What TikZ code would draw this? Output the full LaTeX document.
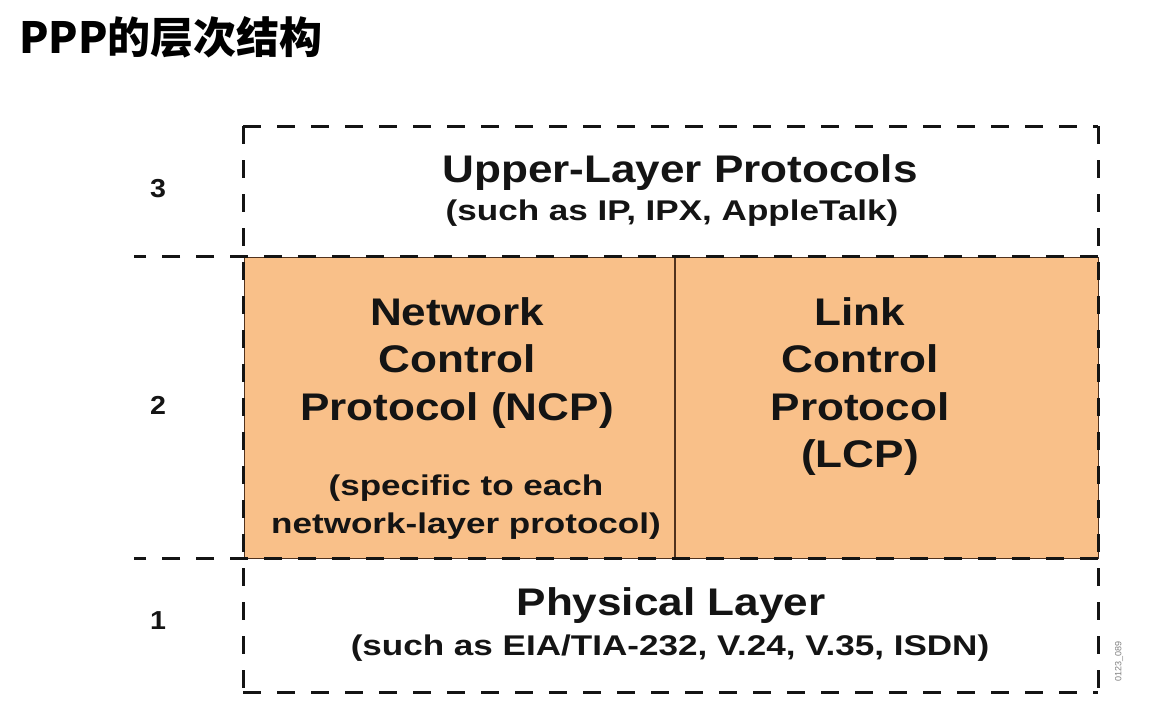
\documentclass[tikz,border=0pt]{standalone}
\usepackage{fontspec}
\setmainfont{Liberation Sans}
\newfontfamily\cjk{Noto Sans CJK SC}
\definecolor{layerfill}{RGB}{249,192,137}
\definecolor{layeredge}{RGB}{80,50,30}
\definecolor{ink}{RGB}{20,20,20}
\begin{document}
\begin{tikzpicture}[x=1pt,y=-1pt,
  dashline/.style={draw=ink,line width=3pt,dash pattern=on 18pt off 16pt},
  big/.style={font=\fontsize{38.5}{44}\selectfont\bfseries,text=ink,anchor=base,inner sep=0pt,xscale=1.145},
  small/.style={font=\fontsize{28.5}{32}\selectfont\bfseries,text=ink,anchor=base,inner sep=0pt,xscale=1.23},
  num/.style={font=\fontsize{26}{30}\selectfont\bfseries,text=ink,anchor=base,inner sep=0pt,xscale=1.1}]
\useasboundingbox (0,0) rectangle (1168,705);
\fill[white] (0,0) rectangle (1168,705);

% title
\node[anchor=base west,inner sep=0pt,font=\cjk\bfseries\fontsize{43}{48}\selectfont] (title) at (19,53) {PPP的层次结构};

% data link layer block
\filldraw[fill=layerfill,draw=layeredge,line width=0.9pt] (244,257) rectangle (1098,558);
\draw[layeredge,line width=1.6pt] (675,257) -- (675,558);

% layer boundaries
\coordinate (tl) at (243,126);
\coordinate (tr) at (1098,126);
\coordinate (bl) at (243,692);
\coordinate (br) at (1098,692);
\draw[dashline] (tl) -- (tr);
\draw[dashline] (bl) -- (br);
\draw[dashline] (243,126) -- (243,692);
\draw[dashline] (1098,126) -- (1098,692);
\draw[dashline] (1098,256) -- (134,256);
\draw[dashline] (1098,558) -- (134,558);

% layer numbers
\node[num] (n3) at (158,197) {3};
\node[num] (n2) at (158,414) {2};
\node[num] (n1) at (158,629) {1};

% layer 3
\node[big] (up) at (680,182) {Upper-Layer Protocols};
\node[small] (upx) at (672,220) {(such as IP, IPX, AppleTalk)};

% layer 2, NCP
\node[big] (ncp1) at (457,325) {Network};
\node[big] (ncp2) at (457,372) {Control};
\node[big] (ncp3) at (457,420) {Protocol (NCP)};
\node[small] (ncp4) at (466,495) {(specific to each};
\node[small] (ncp5) at (466,533) {network-layer protocol)};

% layer 2, LCP
\node[big] (lcp1) at (860,325) {Link};
\node[big] (lcp2) at (860,372) {Control};
\node[big] (lcp3) at (860,420) {Protocol};
\node[big] (lcp4) at (860,467) {(LCP)};

% layer 1
\node[big] (phy) at (671,615) {Physical Layer};
\node[small] (phyx) at (670,655) {(such as EIA/TIA-232, V.24, V.35, ISDN)};

% figure code
\node[rotate=90,font=\fontsize{9}{10}\selectfont,text=gray,inner sep=0pt] (code) at (1119,661) {0123\_089};
\end{tikzpicture}
\end{document}
